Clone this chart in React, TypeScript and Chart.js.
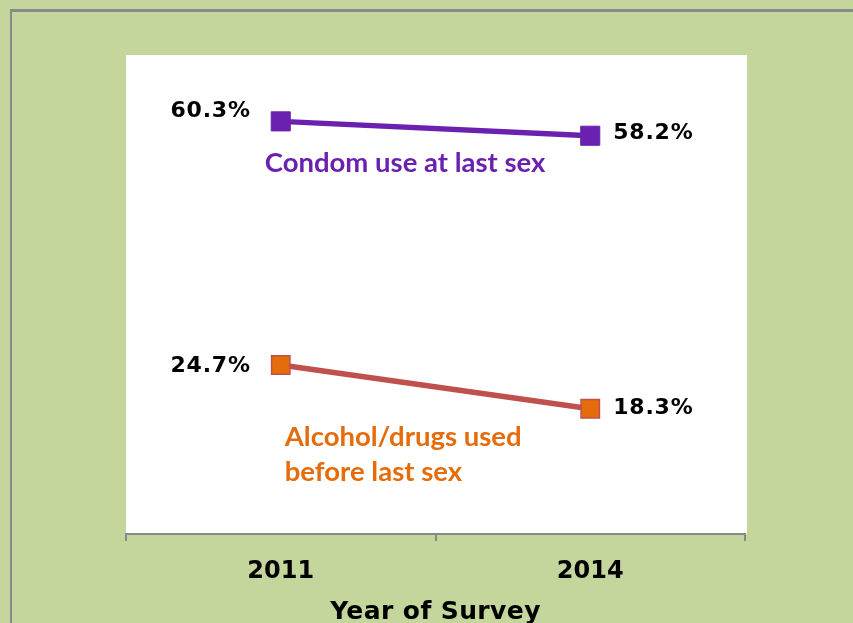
import React, { useEffect, useRef } from "react";
import { Chart, registerables } from "chart.js";

Chart.register(...registerables);

const years = ["2011", "2014"];
const condomUse = [60.3, 58.2];
const alcoholDrugs = [24.7, 18.3];
const yRange = [0, 70];
const condomLabel = ["Condom use at last sex"];
const alcoholLabel = ["Alcohol/drugs used", "before last sex"];
const axisTitle = "Year of Survey";

const GREEN = "#c4d69c";
const PURPLE = "#6a21b0";
const ORANGE = "#e46c0a";
const RED = "#c0504d";
const GRAY = "#898989";

const decorPlugin = {
  id: "decor",
  beforeDraw(chart: any) {
    const { ctx, width, height, chartArea } = chart;
    ctx.save();
    ctx.fillStyle = GREEN;
    ctx.fillRect(0, 0, width, height);
    ctx.fillStyle = GRAY;
    ctx.fillRect(10, 9, width - 10, 3);
    ctx.fillRect(10, 9, 2, height - 9);
    ctx.fillStyle = "#ffffff";
    ctx.fillRect(chartArea.left, chartArea.top, chartArea.right - chartArea.left + 2, chartArea.bottom - chartArea.top);
    ctx.restore();
  },
  afterDraw(chart: any) {
    const { ctx, chartArea } = chart;
    const xs = chart.scales.x;
    const ys = chart.scales.y;
    ctx.save();
    // value labels
    ctx.fillStyle = "#000";
    ctx.font = "bold 22px 'DejaVu Sans'";
    (ctx as any).letterSpacing = "0.8px";
    ctx.textBaseline = "middle";
    const series = [condomUse, alcoholDrugs];
    const lift = [[10, 2], [-1, 0]];
    series.forEach((vals, s) => {
      vals.forEach((v, i) => {
        const px = xs.getPixelForValue(i);
        const py = ys.getPixelForValue(v) - lift[s][i];
        const txt = v.toFixed(1) + "%";
        if (i === 0) {
          ctx.textAlign = "right";
          ctx.fillText(txt, px - 30, py);
        } else {
          ctx.textAlign = "left";
          ctx.fillText(txt, px + 23, py);
        }
      });
    });
    // series labels
    ctx.textBaseline = "alphabetic";
    ctx.textAlign = "left";
    (ctx as any).letterSpacing = "0px";
    ctx.font = "bold 27.5px Lato";
    ctx.fillStyle = PURPLE;
    ctx.fillText(condomLabel[0], xs.getPixelForValue(0) - 16, ys.getPixelForValue(condomUse[0]) + 51);
    ctx.fillStyle = ORANGE;
    alcoholLabel.forEach((l, k) => {
      ctx.fillText(l, xs.getPixelForValue(0) + 4, ys.getPixelForValue(alcoholDrugs[0]) + 81 + k * 35);
    });
    // x tick labels
    ctx.fillStyle = "#000";
    ctx.textAlign = "center";
    ctx.font = "bold 24px 'DejaVu Sans'";
    years.forEach((y, i) => {
      ctx.fillText(y, xs.getPixelForValue(i), chartArea.bottom + 44);
    });
    ctx.font = "bold 25px 'DejaVu Sans'";
    (ctx as any).letterSpacing = "0.4px";
    ctx.fillText(axisTitle, (chartArea.left + chartArea.right) / 2, chartArea.bottom + 85);
    ctx.restore();
  },
};

export default function App() {
  const ref = useRef<HTMLCanvasElement>(null);
  useEffect(() => {
    if (!ref.current) return;
    const chart = new Chart(ref.current, {
      type: "line",
      data: {
        labels: years,
        datasets: [
          {
            label: condomLabel[0],
            data: condomUse,
            borderColor: PURPLE,
            borderWidth: 5.5,
            pointStyle: "rect",
            pointRadius: 13.5,
            pointBackgroundColor: PURPLE,
            pointBorderColor: PURPLE,
            pointBorderWidth: 1,
          },
          {
            label: alcoholLabel.join(" "),
            data: alcoholDrugs,
            borderColor: RED,
            borderWidth: 5.5,
            pointStyle: "rect",
            pointRadius: 13,
            pointBackgroundColor: ORANGE,
            pointBorderColor: RED,
            pointBorderWidth: 1.5,
          },
        ],
      },
      options: {
        animation: false,
        responsive: false,
        layout: { padding: { left: 126, right: 108, top: 55, bottom: 0 } },
        plugins: { legend: { display: false }, tooltip: { enabled: false } },
        scales: {
          x: {
            offset: true,
            grid: {
              offset: true,
              drawOnChartArea: false,
              drawTicks: true,
              tickLength: 7,
              color: GRAY,
              lineWidth: 2,
            },
            border: { color: GRAY, width: 2 },
            ticks: { display: false },
            afterFit: (s: any) => {
              s.height = 89;
            },
          },
          y: {
            display: false,
            min: yRange[0],
            max: yRange[1],
          },
        },
      },
      plugins: [decorPlugin],
    });
    return () => chart.destroy();
  }, []);
  return (
    <div style={{ position: "fixed", left: 0, top: 0, width: 853, height: 623, background: GREEN }}>
      <canvas ref={ref} width={853} height={623} style={{ display: "block", width: 853, height: 623 }} />
    </div>
  );
}
